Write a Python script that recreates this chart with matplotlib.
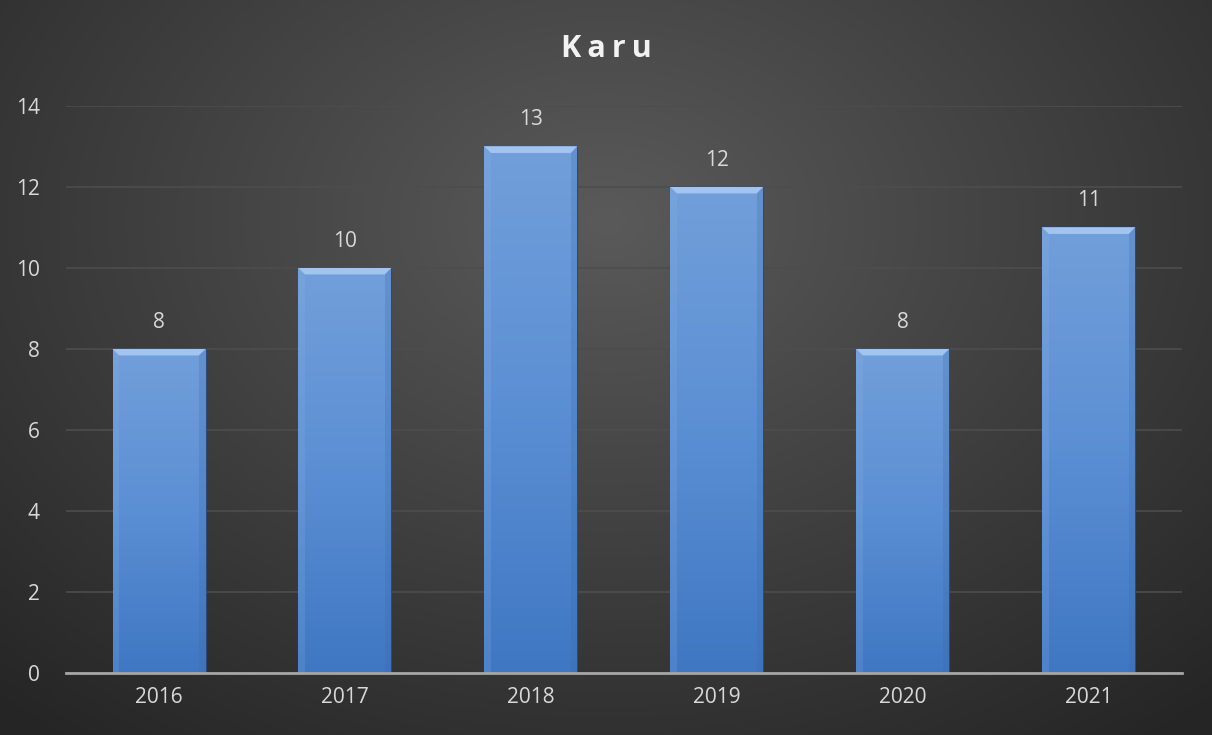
import matplotlib.pyplot as plt
import numpy as np
from matplotlib.colors import LinearSegmentedColormap

years = ["2016", "2017", "2018", "2019", "2020", "2021"]
counts = [8, 10, 13, 12, 8, 11]

plt.rcParams['font.family'] = ['Open Sans', 'DejaVu Sans']

fig = plt.figure(figsize=(12.12, 7.35), dpi=100)

# radial dark background
bg = fig.add_axes([0, 0, 1, 1], zorder=-10)
yy, xx = np.mgrid[0:1:300j, 0:1:500j]
r = np.sqrt(((xx - 0.5) / 0.75) ** 2 + ((yy - 0.3) / 0.9) ** 2)
shade = np.clip(1 - r, 0, 1)
bg_cmap = LinearSegmentedColormap.from_list("bg", ["#252525", "#5a5a5a"])
bg.imshow(shade, cmap=bg_cmap, aspect="auto", extent=[0, 1, 1, 0])
bg.axis("off")

ax = fig.add_axes([0.0545, 0.0844, 0.9205, 0.7714])
ax.patch.set_alpha(0)

x = np.arange(len(years))
bars = ax.bar(x, counts, width=0.5, color="#5a8bd0", edgecolor="#2c4a78", linewidth=0.8, zorder=3)

# vertical gradient + bevel on each bar
bar_cmap = LinearSegmentedColormap.from_list("bar", ["#3f77c2", "#5b8fd4", "#729fda"])
grad = np.linspace(0, 1, 256).reshape(-1, 1)
for b in bars:
    x0, w, h = b.get_x(), b.get_width(), b.get_height()
    im = ax.imshow(grad, cmap=bar_cmap, aspect="auto", origin="lower",
                   extent=[x0, x0 + w, 0, h], zorder=3.5)
    im.set_clip_path(b)
    # top bevel highlight
    ax.fill([x0, x0 + w, x0 + w * 0.93, x0 + w * 0.07], [h, h, h - 0.16, h - 0.16],
            color="#a3c4ee", zorder=4, lw=0)
    ax.fill([x0 + w, x0 + w, x0 + w * 0.93, x0 + w * 0.93], [h, 0, 0, h - 0.16],
            color="#3c6aa8", alpha=0.25, zorder=4, lw=0)
    ax.fill([x0, x0, x0 + w * 0.07, x0 + w * 0.07], [h, 0, 0, h - 0.16],
            color="#8fb4e6", alpha=0.2, zorder=4, lw=0)
    ax.text(b.get_x() + w / 2, h + 0.4, str(int(h)), ha="center", va="bottom",
            color="#d9d9d9", fontsize=15)

ax.set_xlim(-0.5, len(years) - 0.5)
ax.set_ylim(0, 14)
ax.set_yticks(np.arange(0, 15, 2))
ax.set_xticks(x)
ax.set_xticklabels(years)
ax.yaxis.grid(True, color="#4d4d4d", linewidth=1.2, zorder=0)
ax.set_axisbelow(True)
for s in ["top", "right", "left"]:
    ax.spines[s].set_visible(False)
ax.spines["bottom"].set_color("#a6a6a6")
ax.spines["bottom"].set_linewidth(2)
ax.spines["bottom"].set_zorder(5)
ax.tick_params(axis="both", length=0, colors="#d9d9d9", labelsize=15)
ax.tick_params(axis="x", pad=10)
ax.tick_params(axis="y", pad=19)

fig.text(0.5, 0.934, "K\u2009a\u2009r\u2009u", ha="center", va="center",
         color="#f2f2f2", fontsize=22, fontweight="bold")

plt.savefig("out.png", dpi=100)
